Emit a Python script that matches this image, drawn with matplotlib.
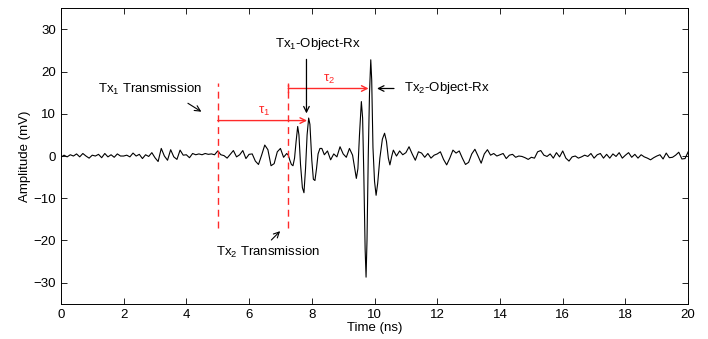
import numpy as np
import matplotlib
matplotlib.use("Agg")
import matplotlib.pyplot as plt

plt.rcParams["font.family"] = ["Liberation Sans", "DejaVu Sans"]
plt.rcParams["mathtext.fontset"] = "custom"
plt.rcParams["mathtext.rm"] = "Liberation Sans"

# Received signal, segment by segment (time in ns, amplitude in mV)
t_pre = np.round(np.arange(0.0, 7.21, 0.1), 2)
v_pre = [-0.3, 0.2, -0.2, 0.3, 0.0, 0.5, -0.2, 0.6, 0.0, -0.5,
         0.2, 0.0, 0.4, -0.4, 0.6, -0.2, 0.3, -0.3, 0.5, 0.0,
         0.0, 0.2, -0.2, 0.7, 0.0, 0.4, -0.6, 0.3, -0.1, 0.8,
         -0.4, -1.3, 1.8, 0.0, -1.0, 1.5, -0.2, -0.8, 1.4, 0.2,
         0.3, -0.4, 0.6, 0.3, 0.5, 0.3, 0.6, 0.4, 0.5, 0.3,
         1.2, 0.3, 0.1, -0.5, 0.4, 1.3, -0.2, 0.3, 1.3, -0.6,
         0.4, 0.5, -1.2, -2.0, 0.2, 2.6, 1.5, -2.3, -1.8, 1.0,
         1.8, -0.3, 0.6]

t_echo1 = [7.25, 7.30, 7.35, 7.40, 7.45, 7.50, 7.55, 7.59, 7.64, 7.70,
           7.75, 7.80, 7.85, 7.90, 7.94, 8.00, 8.05, 8.10, 8.15, 8.20,
           8.26, 8.32]
v_echo1 = [0.2, -1.0, -2.0, -2.3, -0.5, 3.5, 7.0, 5.0, -2.0, -7.5,
           -8.7, -3.0, 5.0, 9.0, 7.5, -1.0, -5.5, -5.8, -3.0, 0.5,
           1.8, 1.8]

t_mid = [8.4, 8.5, 8.6, 8.7, 8.8, 8.9, 9.0, 9.1, 9.2, 9.3]
v_mid = [0.3, 1.2, -0.9, 0.5, -0.2, 2.2, 0.5, -0.3, 1.8, 0.2]

t_echo2 = [9.36, 9.42, 9.47, 9.52, 9.58, 9.62, 9.66, 9.70, 9.73, 9.76,
           9.80, 9.84, 9.88, 9.91, 9.95, 10.00, 10.05, 10.10, 10.17, 10.25,
           10.32, 10.38, 10.44, 10.49, 10.55, 10.60]
v_echo2 = [-2.5, -5.3, -3.0, 5.0, 12.9, 9.0, -5.0, -22.0, -28.7, -20.0,
           0.0, 15.0, 22.8, 18.0, 2.0, -6.0, -9.3, -6.5, -0.5, 4.0,
           5.4, 3.5, -0.5, -2.1, 0.0, 1.4]

t_post = np.round(np.arange(10.7, 20.01, 0.1), 2)
v_post = [0.0, 1.2, 0.3, 0.8, 2.2, 0.5, -1.0, 1.0, 0.7, -0.3,
          0.6, -0.5, 0.2, 0.5, 1.0, -0.8, -2.1, -0.5, 1.4, 0.7,
          1.2, -0.5, -2.0, -1.5, 0.5, 1.6, 0.0, -1.7, 0.5, 1.5,
          0.2, 0.6, 0.0, 0.3, 0.6, -0.6, 0.2, 0.4, -0.3, 0.0,
          -0.1, -0.4, -0.8, -0.3, -0.5, 1.0, 1.3, 0.2, -0.1, 0.5,
          -0.5, 0.8, -0.2, 1.2, -0.5, -1.2, -0.2, 0.0, -0.5, -0.2,
          0.2, -0.1, 0.6, -0.5, 0.3, 0.6, -0.5, 0.4, -0.5, 0.5,
          -0.1, 0.8, -0.5, 0.2, 0.8, -0.3, 0.4, -0.5, 0.3, -0.2,
          -0.5, -0.9, -0.4, 0.0, 0.3, -0.7, 0.7, -0.4, -0.3, 0.2,
          0.9, -0.7, -0.6, 1.0]

time_ns = np.concatenate([t_pre, t_echo1, t_mid, t_echo2, t_post])
amp_mv = np.concatenate([v_pre, v_echo1, v_mid, v_echo2, v_post])

# Transmission instants and echo arrival times (ns)
tx1_time = 5.0
tx2_time = 7.25
echo1_time = 7.85
echo2_time = 9.86

red = "#ff2a2a"
fs = 9.5

fig = plt.figure(figsize=(7.08, 3.39), dpi=100)
ax = fig.add_axes([0.086, 0.104, 0.886, 0.8715])

ax.plot(time_ns, amp_mv, color="black", lw=0.8)

ax.set_xlim(0, 20)
ax.set_ylim(-35, 35)
ax.set_xticks(np.arange(0, 21, 2))
ax.set_yticks([-30, -20, -10, 0, 10, 20, 30])
ax.tick_params(direction="in", top=True, right=True, length=4, width=0.6,
               labelsize=fs)
for s in ax.spines.values():
    s.set_linewidth(0.7)
ax.set_xlabel("Time (ns)", fontsize=fs, labelpad=1)
ax.set_ylabel("Amplitude (mV)", fontsize=fs, labelpad=2)

# Transmission markers
for tx in (tx1_time, tx2_time):
    ax.plot([tx, tx], [-17.0, 17.3], color=red, lw=1.0, ls=(0, (5, 3.5)))

# Delay arrows
ax.annotate("", xy=(echo1_time, 8.4), xytext=(tx1_time, 8.4),
            arrowprops=dict(arrowstyle="->", color=red, lw=1.0,
                            shrinkA=0, shrinkB=0))
ax.text((tx1_time + echo1_time) / 2 + 0.05, 9.0, r"τ$_1$", color=red,
        fontsize=fs, ha="center", va="bottom")
ax.annotate("", xy=(echo2_time - 0.05, 16.0), xytext=(tx2_time, 16.0),
            arrowprops=dict(arrowstyle="->", color=red, lw=1.0,
                            shrinkA=0, shrinkB=0))
ax.plot([tx2_time, tx2_time], [15.2, 16.8], color=red, lw=1.0)
ax.text((tx2_time + echo2_time) / 2, 16.6, r"τ$_2$", color=red,
        fontsize=fs, ha="center", va="bottom")

# Echo labels
ax.text(8.2, 26.5, r"Tx$_1$-Object-Rx", fontsize=fs, ha="center",
        va="center")
ax.annotate("", xy=(echo1_time - 0.02, 10.1), xytext=(echo1_time - 0.02, 22.9),
            arrowprops=dict(arrowstyle="->", color="black", lw=0.9,
                            shrinkA=0, shrinkB=0))
ax.text(10.95, 16.0, r"Tx$_2$-Object-Rx", fontsize=fs, ha="left",
        va="center")
ax.annotate("", xy=(10.08, 16.0), xytext=(10.62, 16.0),
            arrowprops=dict(arrowstyle="->", color="black", lw=0.9,
                            shrinkA=0, shrinkB=0))

# Transmission labels
ax.text(2.85, 15.8, r"Tx$_1$ Transmission", fontsize=fs, ha="center",
        va="center")
ax.annotate("", xy=(4.48, 10.5), xytext=(4.05, 12.5),
            arrowprops=dict(arrowstyle="->", color="black", lw=0.8,
                            shrinkA=0, shrinkB=0))
ax.text(6.6, -22.8, r"Tx$_2$ Transmission", fontsize=fs, ha="center",
        va="center")
ax.annotate("", xy=(6.99, -17.8), xytext=(6.71, -19.9),
            arrowprops=dict(arrowstyle="->", color="black", lw=0.8,
                            shrinkA=0, shrinkB=0))

fig.savefig("out.png", dpi=100)
